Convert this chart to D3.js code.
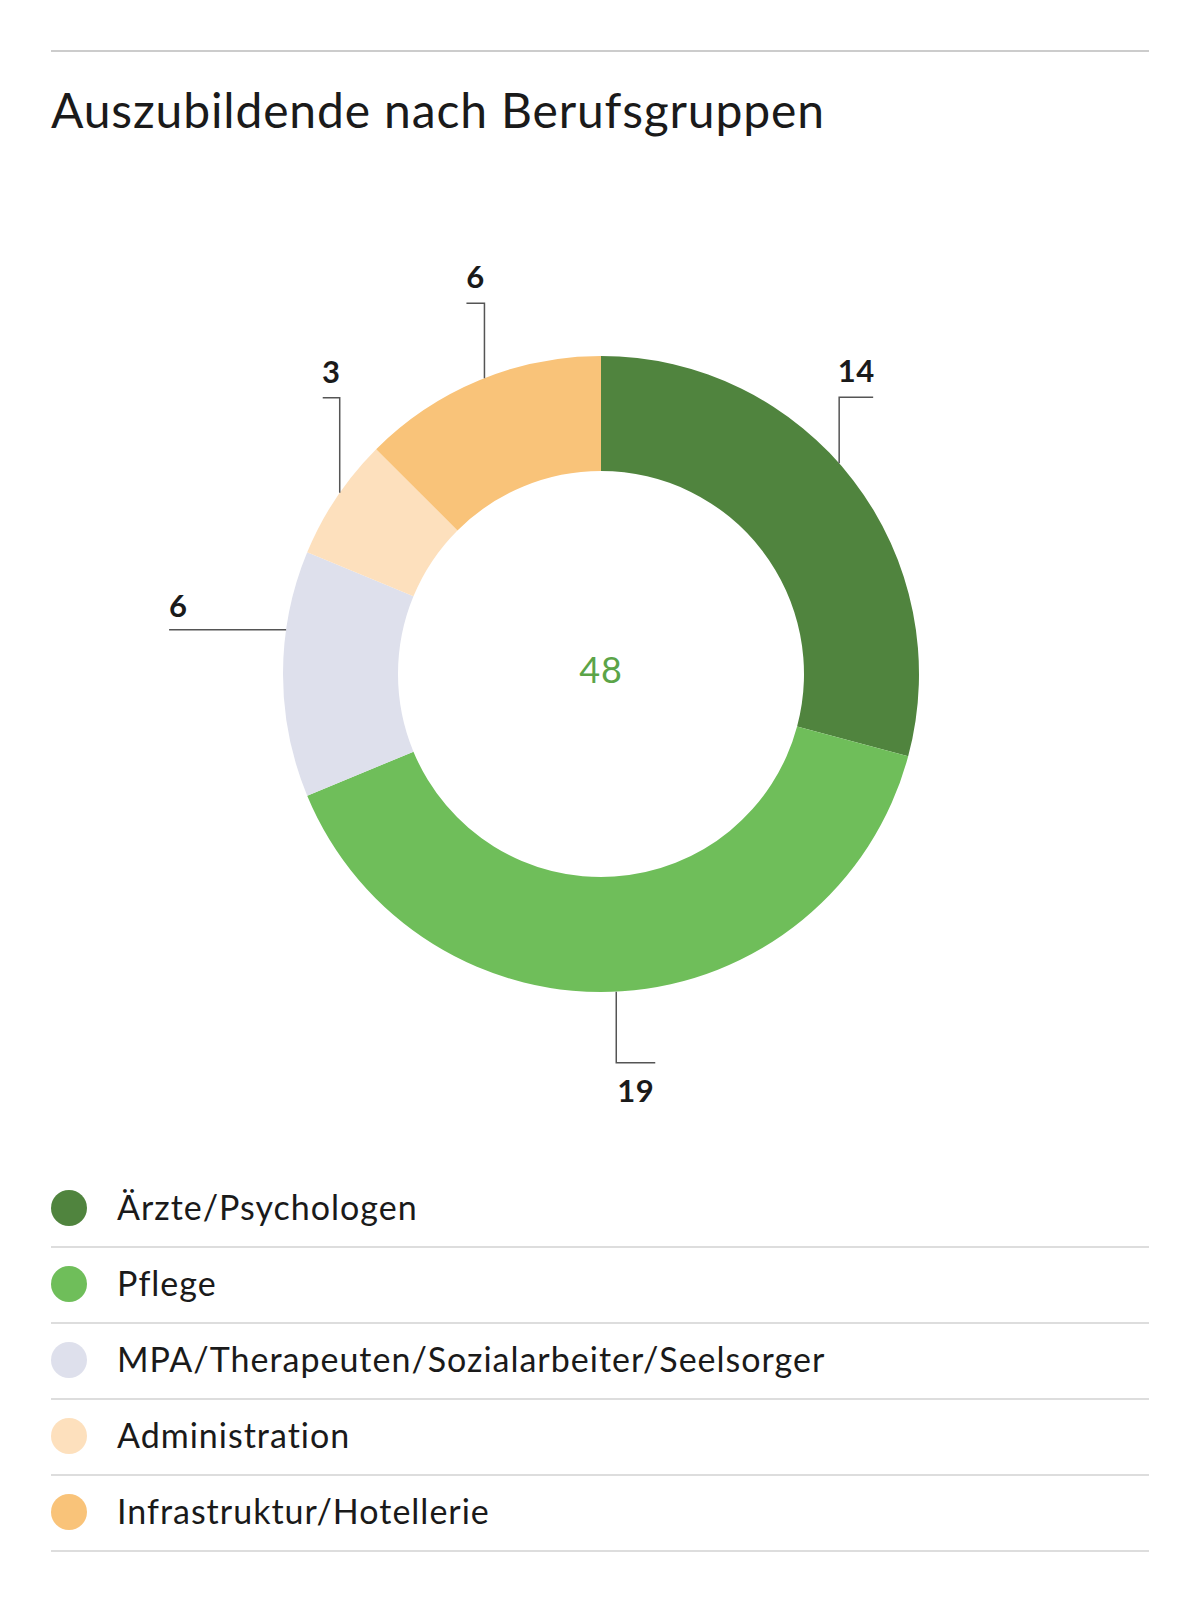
<!DOCTYPE html>
<html>
<head>
<meta charset="utf-8">
<script src="https://cdn.jsdelivr.net/npm/d3@7"></script>
<style>
  body { margin: 0; background: #fff; }
  text { font-family: Lato, "Open Sans", sans-serif; }
</style>
</head>
<body>
<script>
// data
let categories = ["Ärzte/Psychologen", "Pflege", "MPA/Therapeuten/Sozialarbeiter/Seelsorger", "Administration", "Infrastruktur/Hotellerie"]
let values = [14, 19, 6, 3, 6]
let colors = ["#50843e", "#6fbe5a", "#dee0ec", "#fde0bd", "#f9c379"]
let title = "Auszubildende nach Berufsgruppen"

// label leader layout: angle nudge (deg), first leg, second leg
let nudge = [-4, 1, 8, 1, 1]
let legs = [
  {dir: "up", len: 66, stub: 34},
  {dir: "down", len: 71, stub: 39},
  {dir: "left", len: 117, stub: 0},
  {dir: "up", len: 95, stub: -17},
  {dir: "up", len: 75, stub: -18}
]

const W = 1200, H = 1606
const cx = 601, cy = 674, R = 318, r = 203

let svg = d3.select("body")
  .append("svg")
    .attr("width", W)
    .attr("height", H)

// top rule + title
svg.append("line")
    .attr("x1", 51).attr("x2", 1149)
    .attr("y1", 51).attr("y2", 51)
    .attr("stroke", "#cccccc")
    .attr("stroke-width", 2)

svg.append("text")
    .attr("x", 51)
    .attr("y", 128)
    .attr("font-size", 48)
    .attr("letter-spacing", 0.85)
    .attr("fill", "#1a1a1a")
    .text(title)

// donut
let pie = d3.pie().sort(null).value(d => d)
let arcs = pie(values)
let arc = d3.arc().innerRadius(r).outerRadius(R)

let g = svg.append("g")
    .attr("transform", `translate(${cx}, ${cy})`)

g.selectAll("path.slice")
  .data(arcs)
  .enter()
  .append("path")
    .attr("class", "slice")
    .attr("d", arc)
    .attr("fill", (d, i) => colors[i])

g.append("text")
    .attr("x", 0)
    .attr("y", 9)
    .attr("text-anchor", "middle")
    .attr("font-size", 36)
    .attr("letter-spacing", 1)
    .attr("fill", "#5ba448")
    .text(d3.sum(values))

// leader lines + value labels
arcs.forEach((d, i) => {
  let a = (d.startAngle + d.endAngle) / 2 + nudge[i] * Math.PI / 180
  let x0 = R * Math.sin(a), y0 = -R * Math.cos(a)
  let L = legs[i]
  let pts, tx, ty, anchor = "middle"
  if (L.dir === "up") {
    let y1 = y0 - L.len
    pts = [[x0, y0], [x0, y1], [x0 + L.stub, y1]]
    tx = x0 + L.stub / 2; ty = y1 - 15
  } else if (L.dir === "down") {
    let y1 = y0 + L.len
    pts = [[x0, y0], [x0, y1], [x0 + L.stub, y1]]
    tx = x0 + L.stub / 2; ty = y1 + 39
  } else {
    pts = [[x0, y0], [x0 - L.len, y0]]
    tx = x0 - L.len; ty = y0 - 13; anchor = "start"
  }
  g.append("path")
      .attr("d", d3.line()(pts))
      .attr("fill", "none")
      .attr("stroke", "#555555")
      .attr("stroke-width", 1.5)
  g.append("text")
      .attr("x", tx)
      .attr("y", ty)
      .attr("text-anchor", anchor)
      .attr("font-size", 31)
      .attr("font-weight", "bold")
      .attr("letter-spacing", 0.5)
      .attr("fill", "#1a1a1a")
      .text(d.data)
})

// legend
let y = d3.scaleBand()
    .domain(categories)
    .range([1170, 1550])

let legend = svg.append("g")
legend.selectAll("g.row")
  .data(categories)
  .enter()
  .append("g")
    .attr("class", "row")
    .attr("transform", d => `translate(0, ${y(d)})`)
  .each(function(d, i) {
    let row = d3.select(this)
    let mid = y.bandwidth() / 2
    row.append("circle")
        .attr("cx", 69)
        .attr("cy", mid)
        .attr("r", 18)
        .attr("fill", colors[i])
    row.append("text")
        .attr("x", 117)
        .attr("y", mid + 12)
        .attr("font-size", 34)
        .attr("letter-spacing", 1)
        .attr("fill", "#1a1a1a")
        .text(d)
    row.append("line")
        .attr("x1", 51).attr("x2", 1149)
        .attr("y1", y.bandwidth() + 1).attr("y2", y.bandwidth() + 1)
        .attr("stroke", "#dddddd")
        .attr("stroke-width", 2)
  })
</script>
</body>
</html>
